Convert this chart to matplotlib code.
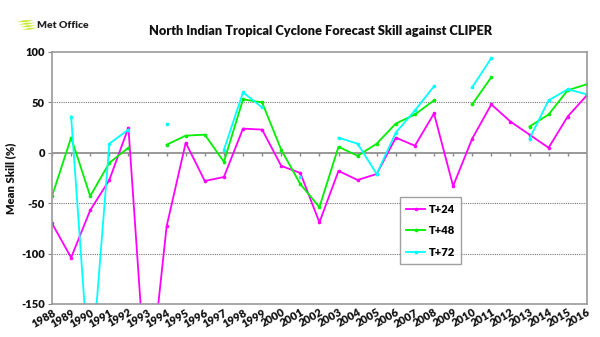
import numpy as np
import matplotlib.pyplot as plt
from matplotlib.patches import Polygon

nan = np.nan

years = list(range(1988, 2017))

# mean skill (%) per lead time, gaps where no forecasts
t24 = [-70, -104, -57, -27, 25, -250, -73, 10, -28, -24, 24, 23, -13, -20, -69,
       -18, -27, -21, 15, 7, 39, -33, 14, 48, 31, 18, 5, 36, 57]
t48 = [-43, 15, -43, -10, 5, nan, 8, 17, 18, -9, 53, 50, 3, -31, -54,
       6, -3, 9, 29, 38, 52, nan, 48, 75, nan, 26, 38, 62, 68]
t72 = [nan, 36, -230, 9, 23, nan, 29, nan, nan, 3, 60, 45, nan, -24, nan,
       15, 9, -21, 20, 42, 66, nan, 65, 94, nan, 14, 52, 63, 58]

series = [('T+24', t24, '#ff00ff'), ('T+48', t48, '#00ee00'), ('T+72', t72, '#00ffff')]

plt.rcParams['font.family'] = ['Lato', 'DejaVu Sans']
plt.rcParams['axes.unicode_minus'] = False

fig = plt.figure(figsize=(6, 3.37), dpi=100)
ax = fig.add_axes([0.0867, 0.098, 0.8913, 0.7477])

for name, vals, col in series:
    ax.plot(years, vals, color=col, lw=1.3, marker='o', ms=1.6, label=name)

ax.set_xlim(1988, 2016)
ax.set_ylim(-150, 100)
ax.set_yticks([-150, -100, -50, 0, 50, 100])

# dotted gridlines and zero axis with category ticks
for v in [-100, -50, 50]:
    ax.axhline(v, color='#777777', lw=0.8, ls=(0, (1, 1)), zorder=0)
ax.axhline(0, color='#888888', lw=1.2, zorder=0)
ax.vlines(years, -3.5, 0, color='#888888', lw=1, zorder=0)

for s in ax.spines.values():
    s.set_color('#999999')
    s.set_linewidth(1.2)

ax.tick_params(axis='y', length=3, color='#888888', labelsize=8, pad=2,
               labelcolor='#111111')
ax.tick_params(axis='x', length=0, labelsize=8, pad=2, labelcolor='#111111')
ax.set_xticks(years)
ax.set_xticklabels([str(y) for y in years], rotation=30, ha='right',
                   rotation_mode='anchor', fontweight='heavy')
for lab in ax.get_yticklabels():
    lab.set_fontweight('heavy')

ax.set_ylabel('Mean Skill (%)', fontsize=8, color='#111111', labelpad=4,
              fontweight='heavy')

leg = ax.legend(loc='upper left', bbox_to_anchor=(0.65, 0.425), fontsize=8,
                frameon=True, fancybox=False, edgecolor='#888888',
                handlelength=1.7, labelspacing=0.95, borderpad=0.6,
                handletextpad=0.3, markerscale=1, borderaxespad=0)
leg.get_frame().set_linewidth(1)
for t in leg.get_texts():
    t.set_fontweight('heavy')

fig.text(0.535, 0.908, 'North Indian Tropical Cyclone Forecast Skill against CLIPER',
         ha='center', va='center', fontsize=9.2, fontweight='heavy',
         color='#111111')

# Met Office logo
for i in range(4):
    y0 = 0.94 - i * 0.0075
    fig.patches.append(Polygon([[0.028 + i * 0.003, y0 - 0.0055], [0.040 + i * 0.003, y0],
                                [0.062 - (3 - i) * 0.002, y0], [0.050 - (3 - i) * 0.002, y0 - 0.0055]],
                               closed=True, transform=fig.transFigure,
                               facecolor='#c6e835', edgecolor='none'))
fig.text(0.0615, 0.925, 'Met Office', fontsize=7.5, fontweight='heavy',
         color='#222222', va='center', ha='left')

fig.savefig('out.png', dpi=100)
